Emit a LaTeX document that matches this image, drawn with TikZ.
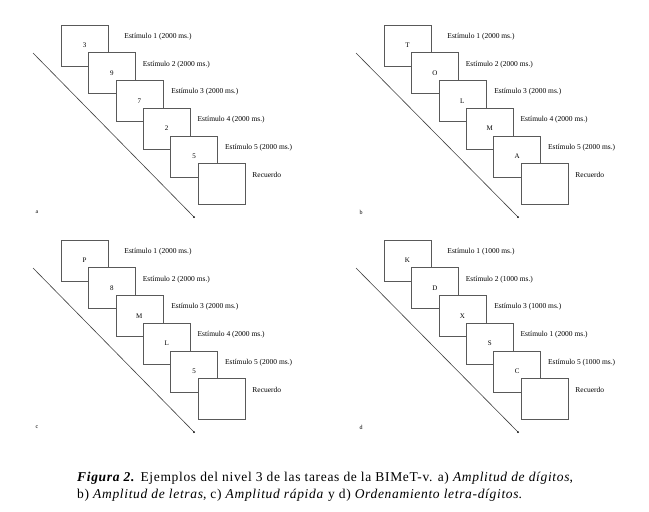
\documentclass[tikz,border=0pt]{standalone}
\usepackage{fontspec}
\setmainfont{Liberation Serif}
\usepackage{tikz}
\usetikzlibrary{arrows,positioning}
\tikzset
{
    screen/.style     = {draw=black!65, fill=white, line width=0.5pt, minimum width=47pt, minimum height=41pt, inner sep=0pt, on grid, font=\fontsize{7}{8}\selectfont},
    stimlabel/.style  = {inner sep=0pt, font=\fontsize{7.5}{8}\selectfont},
    timeline/.style   = {black!75, line width=0.6pt},
    panellabel/.style = {inner sep=0pt, font=\fontsize{6}{7}\selectfont}
}
\begin{document}
\begin{tikzpicture}[x=1pt, y=-1pt]
    \useasboundingbox (0,0) rectangle (649,512);
    % panel a
    \coordinate (a-start) at (33,53);
    \coordinate (a-end) at (194,217);
    \draw [timeline] (a-start) -- (a-end);
    \fill (a-end) circle (1pt);
    \node [panellabel] (a-tag) at (37,212) {a};
    \node [screen] (a1) at (84.5,45.5) {3};
    \node [screen, below right=27.7pt and 27.4pt of a1] (a2) {9};
    \node [screen, below right=27.7pt and 27.4pt of a2] (a3) {7};
    \node [screen, below right=27.7pt and 27.4pt of a3] (a4) {2};
    \node [screen, below right=27.7pt and 27.4pt of a4] (a5) {5};
    \node [screen, below right=27.7pt and 27.4pt of a5] (a6) {};
    \node [stimlabel, right=16pt of a1.north east, yshift=-12pt] (a1-txt) {Estímulo 1 (2000 ms.)};
    \node [stimlabel, right=7pt of a2.north east, yshift=-12pt] (a2-txt) {Estímulo 2 (2000 ms.)};
    \node [stimlabel, right=8pt of a3.north east, yshift=-12pt] (a3-txt) {Estímulo 3 (2000 ms.)};
    \node [stimlabel, right=7pt of a4.north east, yshift=-12pt] (a4-txt) {Estímulo 4 (2000 ms.)};
    \node [stimlabel, right=7pt of a5.north east, yshift=-12pt] (a5-txt) {Estímulo 5 (2000 ms.)};
    \node [stimlabel, right=7pt of a6.north east, yshift=-12pt] (a6-txt) {Recuerdo};
    % panel b
    \coordinate (b-start) at (356,53);
    \coordinate (b-end) at (518,217);
    \draw [timeline] (b-start) -- (b-end);
    \fill (b-end) circle (1pt);
    \node [panellabel] (b-tag) at (361,212) {b};
    \node [screen] (b1) at (407.5,45.5) {T};
    \node [screen, below right=27.7pt and 27.4pt of b1] (b2) {O};
    \node [screen, below right=27.7pt and 27.4pt of b2] (b3) {L};
    \node [screen, below right=27.7pt and 27.4pt of b3] (b4) {M};
    \node [screen, below right=27.7pt and 27.4pt of b4] (b5) {A};
    \node [screen, below right=27.7pt and 27.4pt of b5] (b6) {};
    \node [stimlabel, right=16pt of b1.north east, yshift=-12pt] (b1-txt) {Estímulo 1 (2000 ms.)};
    \node [stimlabel, right=7pt of b2.north east, yshift=-12pt] (b2-txt) {Estímulo 2 (2000 ms.)};
    \node [stimlabel, right=8pt of b3.north east, yshift=-12pt] (b3-txt) {Estímulo 3 (2000 ms.)};
    \node [stimlabel, right=7pt of b4.north east, yshift=-12pt] (b4-txt) {Estímulo 4 (2000 ms.)};
    \node [stimlabel, right=7pt of b5.north east, yshift=-12pt] (b5-txt) {Estímulo 5 (2000 ms.)};
    \node [stimlabel, right=7pt of b6.north east, yshift=-12pt] (b6-txt) {Recuerdo};
    % panel c
    \coordinate (c-start) at (33,268);
    \coordinate (c-end) at (194,432);
    \draw [timeline] (c-start) -- (c-end);
    \fill (c-end) circle (1pt);
    \node [panellabel] (c-tag) at (37,427) {c};
    \node [screen] (c1) at (84.5,260.5) {P};
    \node [screen, below right=27.7pt and 27.4pt of c1] (c2) {8};
    \node [screen, below right=27.7pt and 27.4pt of c2] (c3) {M};
    \node [screen, below right=27.7pt and 27.4pt of c3] (c4) {L};
    \node [screen, below right=27.7pt and 27.4pt of c4] (c5) {5};
    \node [screen, below right=27.7pt and 27.4pt of c5] (c6) {};
    \node [stimlabel, right=16pt of c1.north east, yshift=-12pt] (c1-txt) {Estímulo 1 (2000 ms.)};
    \node [stimlabel, right=7pt of c2.north east, yshift=-12pt] (c2-txt) {Estímulo 2 (2000 ms.)};
    \node [stimlabel, right=8pt of c3.north east, yshift=-12pt] (c3-txt) {Estímulo 3 (2000 ms.)};
    \node [stimlabel, right=7pt of c4.north east, yshift=-12pt] (c4-txt) {Estímulo 4 (2000 ms.)};
    \node [stimlabel, right=7pt of c5.north east, yshift=-12pt] (c5-txt) {Estímulo 5 (2000 ms.)};
    \node [stimlabel, right=7pt of c6.north east, yshift=-12pt] (c6-txt) {Recuerdo};
    % panel d
    \coordinate (d-start) at (356,268);
    \coordinate (d-end) at (518,432);
    \draw [timeline] (d-start) -- (d-end);
    \fill (d-end) circle (1pt);
    \node [panellabel] (d-tag) at (361,427) {d};
    \node [screen] (d1) at (407.5,260.5) {K};
    \node [screen, below right=27.7pt and 27.4pt of d1] (d2) {D};
    \node [screen, below right=27.7pt and 27.4pt of d2] (d3) {X};
    \node [screen, below right=27.7pt and 27.4pt of d3] (d4) {S};
    \node [screen, below right=27.7pt and 27.4pt of d4] (d5) {C};
    \node [screen, below right=27.7pt and 27.4pt of d5] (d6) {};
    \node [stimlabel, right=16pt of d1.north east, yshift=-12pt] (d1-txt) {Estímulo 1 (1000 ms.)};
    \node [stimlabel, right=7pt of d2.north east, yshift=-12pt] (d2-txt) {Estímulo 2 (1000 ms.)};
    \node [stimlabel, right=8pt of d3.north east, yshift=-12pt] (d3-txt) {Estímulo 3 (1000 ms.)};
    \node [stimlabel, right=7pt of d4.north east, yshift=-12pt] (d4-txt) {Estímulo 1 (2000 ms.)};
    \node [stimlabel, right=7pt of d5.north east, yshift=-12pt] (d5-txt) {Estímulo 5 (1000 ms.)};
    \node [stimlabel, right=7pt of d6.north east, yshift=-12pt] (d6-txt) {Recuerdo};
    % caption
    \node [anchor=north west, inner sep=0pt, align=left, font=\fontsize{13.5}{17}\selectfont\addfontfeatures{LetterSpace=5}] (caption) at (77,472)
        {\textbf{\textit{Figura 2.}} Ejemplos del nivel 3 de las tareas de la BIMeT-v. a) \textit{Amplitud de dígitos},\\
         b) \textit{Amplitud de letras}, c) \textit{Amplitud rápida} y d) \textit{Ordenamiento letra-dígitos}.};
\end{tikzpicture}
\end{document}
